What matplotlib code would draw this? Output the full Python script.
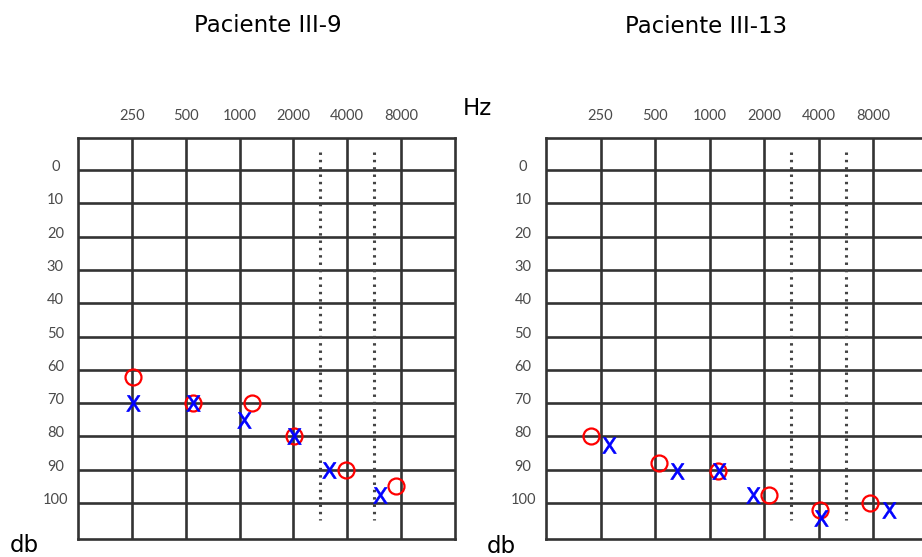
import matplotlib
matplotlib.use("Agg")
import matplotlib.pyplot as plt

# ---- data ----
freq_labels = ["250", "500", "1000", "2000", "4000", "8000"]
db_levels = [0, 10, 20, 30, 40, 50, 60, 70, 80, 90, 100]

# Paciente III-9 (positions in octave columns: 250 Hz = 1, 500 Hz = 2, ...)
p9_circle_pos = [1.02, 2.13, 3.23, 4.01, 4.98, 5.90]
p9_circle_db = [62, 70, 70, 80, 90, 95]
p9_x_pos = [1.02, 2.13, 3.08, 4.01, 4.66, 5.61]
p9_x_db = [70, 70, 75, 80, 90, 97.5]

# Paciente III-13
p13_circle_pos = [0.83, 2.07, 3.16, 4.09, 5.03, 5.94]
p13_circle_db = [80, 88, 90.5, 97.5, 102, 100]
p13_x_pos = [1.16, 2.40, 3.17, 3.80, 5.05, 6.29]
p13_x_db = [82.5, 90.5, 90.5, 97.5, 104.5, 102]

W, H = 922, 557
fig = plt.figure(figsize=(W / 100, H / 100), dpi=100)
fig.patch.set_facecolor("white")

GRID_C = "#333333"
GRID_LW = 1.9
TICK_C = "#4a4a4a"
TICK_FONT = "Lato"


def px_axes(x0, y0, x1, y1):
    return fig.add_axes([x0 / W, 1 - y1 / H, (x1 - x0) / W, (y1 - y0) / H])


def draw_panel(ax, xmax, cpos, cdb, xpos, xdb, show_right=True):
    ax.set_xlim(0, xmax)
    ax.set_ylim(110.8, -9.8)
    ax.set_xticks([])
    ax.set_yticks([])
    for name, sp in ax.spines.items():
        sp.set_color(GRID_C)
        sp.set_linewidth(GRID_LW)
    if not show_right:
        ax.spines["right"].set_visible(False)
    ax.hlines(db_levels, 0, xmax, colors=GRID_C, linewidth=GRID_LW, zorder=1)
    ax.vlines(range(1, 7), -9.8, 110.8, colors=GRID_C, linewidth=GRID_LW, zorder=1)
    ax.vlines([4.5, 5.5], -5.5, 105, colors="#444444", linewidth=2.2,
              linestyles=(0, (0.8, 1.6)), zorder=1)
    for i, lab in enumerate(freq_labels):
        ax.text(i + 1, -15.0, lab, ha="center", va="baseline", fontsize=10.5,
                family=TICK_FONT, color=TICK_C, clip_on=False)
    for v in db_levels:
        ax.text(-0.42, v + 0.3, str(v), ha="center", va="baseline", fontsize=10.5,
                family=TICK_FONT, color=TICK_C, clip_on=False)
    ax.plot(cpos, cdb, linestyle="none", marker="o", ms=11.5, mfc="none",
            mec="red", mew=1.6, zorder=3, clip_on=False)
    ax.plot(xpos, xdb, linestyle="none", marker=r"$\mathsf{X}$", ms=11.5,
            color="blue", mec="blue", mew=0.5, zorder=4, clip_on=False)


ax1 = px_axes(78, 137.5, 455, 539)
draw_panel(ax1, 7, p9_circle_pos, p9_circle_db, p9_x_pos, p9_x_db)

ax2 = px_axes(546, 137.5, 922, 539)
draw_panel(ax2, (922 - 546) / 54.5, p13_circle_pos, p13_circle_db,
           p13_x_pos, p13_x_db, show_right=False)

TF = dict(family="DejaVu Sans", fontsize=16.5, color="black")
fig.text(268 / W, 1 - 32 / H, "Paciente III-9", ha="center", va="baseline", **TF)
fig.text(706 / W, 1 - 33 / H, "Paciente III-13", ha="center", va="baseline", **TF)
fig.text(463 / W, 1 - 115 / H, "Hz", ha="left", va="baseline", **TF)
fig.text(10 / W, 1 - 552 / H, "db", ha="left", va="baseline", **TF)
fig.text(487 / W, 1 - 553 / H, "db", ha="left", va="baseline", **TF)

fig.savefig("out.png", dpi=100, facecolor="white")
